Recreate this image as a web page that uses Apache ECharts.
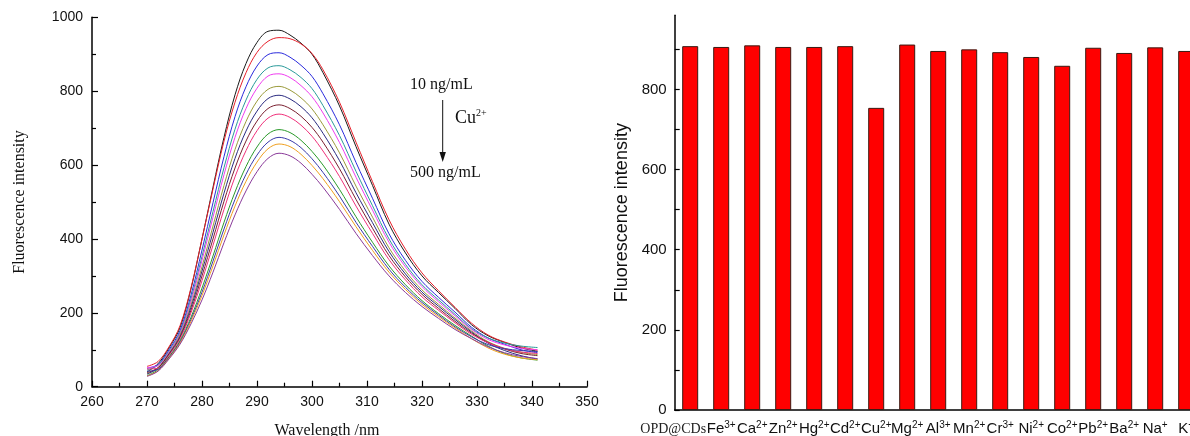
<!DOCTYPE html>
<html>
<head>
<meta charset="utf-8">
<script src="https://cdn.jsdelivr.net/npm/echarts@6/dist/echarts.min.js"></script>
<style>
html,body{margin:0;padding:0;background:#fff;}
#chart{width:1190px;height:436px;}
</style>
</head>
<body>
<div id="chart"></div>
<script>
// ---------- Data: left panel (fluorescence spectra) ----------
const wavelengths = [270,272,274,276,278,280,282,284,286,288,290,292,294,296,298,300,302,305,308,311,314,317,320,323,326,329,332,335,338,341];
const spec01 = [40,62,105,160,265,400,540,675,790,875,932,962,965,952,930,900,850,760,650,545,440,362,300,255,212,168,138,120,105,96];
const spec02 = [55,68,108,165,268,400,535,665,770,850,905,935,945,942,928,902,858,770,662,555,452,372,308,260,215,172,140,121,108,99];
const spec03 = [50,60,100,152,248,370,498,623,731,812,868,899,904,892,870,840,793,709,607,510,414,342,285,242,202,161,132,115,100,92];
const spec04 = [45,58,96,147,238,353,474,593,697,776,832,863,869,858,837,807,761,680,583,490,400,331,276,235,196,157,132,118,110,106];
const spec05 = [52,57,94,144,231,342,459,574,675,753,808,841,847,837,815,785,741,661,567,478,391,324,271,230,192,155,128,113,104,100];
const spec06 = [35,52,91,140,222,325,435,545,642,718,773,805,813,803,782,752,709,633,543,459,376,313,262,223,186,151,122,104,93,87];
const spec07 = [34,50,89,136,215,313,418,524,618,692,746,780,789,779,758,728,686,612,525,444,366,305,256,218,182,148,118,98,84,75];
const spec08 = [38,51,87,133,207,300,400,502,592,665,719,753,763,753,732,702,662,590,507,429,355,297,250,212,177,145,120,102,90,84];
const spec09 = [48,50,85,129,200,287,383,480,568,639,693,727,738,729,708,678,638,569,489,415,344,289,243,207,173,142,119,103,94,90];
const spec10 = [30,46,81,124,188,267,354,445,527,596,649,684,696,688,667,637,600,534,460,391,327,276,233,198,166,137,110,90,78,72];
const spec11 = [42,47,79,121,182,256,340,427,507,575,627,662,675,667,647,617,580,516,445,380,318,269,228,194,162,135,114,103,98,95];
const spec12 = [29,43,77,118,177,247,327,411,489,556,608,644,657,650,629,599,563,501,433,369,310,263,223,190,159,130,105,88,78,73];
const spec13 = [28,42,75,115,170,235,310,390,465,530,582,618,632,625,605,575,540,480,415,355,300,255,217,185,155,130,108,92,82,76];
const spectra = [spec01,spec02,spec03,spec04,spec05,spec06,spec07,spec08,spec09,spec10,spec11,spec12,spec13];
const lineColors = ['#1a1a1a','#e8202a','#2b2bdd','#2a9a9a','#f03cf0','#9a9a3a','#2a2a80','#7a2030','#f0307a','#2a9a2a','#3a3aaa','#f0a020','#8a3a9a'];
const leftYTicks = [0,200,400,600,800,1000];
const leftXTicks = [260,270,280,290,300,310,320,330,340,350];

// ---------- Data: right panel (selectivity bars) ----------
const ionBase = ['OPD@CDs','Fe','Ca','Zn','Hg','Cd','Cu','Mg','Al','Mn','Cr','Ni','Co','Pb','Ba','Na','K'];
const ionCharge = ['','3+','2+','2+','2+','2+','2+','2+','3+','2+','3+','2+','2+','2+','2+','+','+'];
const intensities = [908,906,910,906,906,908,754,912,896,900,893,881,859,904,891,905,896];
const rightYLabels = [0,200,400,600,800];
const rightYTicks = [0,100,200,300,400,500,600,700,800,900];

const categories = ionBase.map((b,i)=> b + (ionCharge[i] ? '^' + ionCharge[i] : ''));

const chart = echarts.init(document.getElementById('chart'), null, {renderer:'canvas'});

const sansFont = '"Liberation Sans", Arial, sans-serif';
const serifFont = '"Liberation Serif", "Times New Roman", serif';

const lineSeries = spectra.map((arr, i) => ({
  type: 'line',
  name: 'c' + (i+1),
  xAxisIndex: 0, yAxisIndex: 0,
  data: wavelengths.map((w, j) => [w, arr[j]]),
  showSymbol: false,
  symbol: 'none',
  smooth: 0.35,
  lineStyle: {width: 1, color: lineColors[i]},
  itemStyle: {color: lineColors[i]},
  silent: true,
  z: 3
}));

const option = {
  animation: false,
  backgroundColor: '#ffffff',
  grid: [
    {left: 92, top: 17.3, width: 495, height: 369.4, containLabel: false, outerBoundsMode: 'none'},
    {left: 674.7, top: 15.3, width: 527, height: 394.7, containLabel: false, outerBoundsMode: 'none'}
  ],
  xAxis: [
    {
      type: 'value', gridIndex: 0, min: 260, max: 350, interval: 10,
      name: 'Wavelength /nm', nameLocation: 'middle', nameGap: 36,
      nameTextStyle: {fontFamily: serifFont, fontSize: 16, color: '#111', padding: [0, 25, 0, 0]},
      axisLine: {show: true, onZero: false, lineStyle: {color: '#000', width: 1.5}},
      axisTick: {show: true, inside: true, length: 6, lineStyle: {color: '#000', width: 1.2}},
      minorTick: {show: true, splitNumber: 2, length: 4, lineStyle: {color: '#000', width: 1.2}},
      axisLabel: {fontFamily: sansFont, fontSize: 14, color: '#111', margin: 8,
        formatter: v => leftXTicks.includes(v) ? String(v) : ''},
      splitLine: {show: false}
    },
    {
      type: 'category', gridIndex: 1, data: categories, boundaryGap: true,
      axisLine: {show: true, lineStyle: {color: '#000', width: 1.5}},
      axisTick: {show: false},
      axisLabel: {
        interval: 0, margin: 10, color: '#111',
        formatter: (v, idx) => {
          if (ionCharge[idx] === '') return '{opd|' + ionBase[idx] + '}';
          return '{b|' + ionBase[idx] + '}{s|' + ionCharge[idx] + '}';
        },
        rich: {
          b: {fontFamily: sansFont, fontSize: 15, color: '#111', lineHeight: 18},
          s: {fontFamily: sansFont, fontSize: 10, color: '#111', verticalAlign: 'top', lineHeight: 10},
          opd: {fontFamily: serifFont, fontSize: 14, color: '#222', lineHeight: 18, padding: [0, 34, 0, 0]}
        }
      },
      splitLine: {show: false}
    }
  ],
  yAxis: [
    {
      type: 'value', gridIndex: 0, min: 0, max: 1000, interval: 200,
      name: 'Fluorescence intensity', nameLocation: 'middle', nameGap: 64,
      nameTextStyle: {fontFamily: serifFont, fontSize: 16, color: '#111'},
      axisLine: {show: true, lineStyle: {color: '#000', width: 1.5}},
      axisTick: {show: true, inside: true, length: 6, lineStyle: {color: '#000', width: 1.2}},
      minorTick: {show: true, splitNumber: 2, length: 4, lineStyle: {color: '#000', width: 1.2}},
      axisLabel: {fontFamily: sansFont, fontSize: 14, color: '#111', margin: 9,
        formatter: v => leftYTicks.includes(v) ? String(v) : ''},
      splitLine: {show: false}
    },
    {
      type: 'value', gridIndex: 1, min: 0, max: 985, interval: 100,
      name: 'Fluorescence intensity', nameLocation: 'middle', nameGap: 44,
      nameTextStyle: {fontFamily: sansFont, fontSize: 18, color: '#111'},
      axisLine: {show: true, lineStyle: {color: '#000', width: 1.5}},
      axisTick: {show: true, inside: true, length: 5, customValues: rightYTicks, lineStyle: {color: '#000', width: 1.2}},
      axisLabel: {fontFamily: sansFont, fontSize: 15, color: '#111', margin: 8, customValues: rightYLabels,
        formatter: v => rightYLabels.includes(v) ? String(v) : ''},
      splitLine: {show: false}
    }
  ],
  graphic: [
    {type: 'text', left: 410, top: 77, style: {text: '10 ng/mL', font: '16px ' + serifFont, fill: '#111'}},
    {type: 'line', shape: {x1: 442.7, y1: 100, x2: 442.7, y2: 154}, style: {stroke: '#111', lineWidth: 1}},
    {type: 'polygon', shape: {points: [[439.5, 152], [445.9, 152], [442.7, 162]]}, style: {fill: '#111'}},
    {type: 'text', left: 455, top: 108, style: {
      text: '{b|Cu}{s|2+}',
      rich: {
        b: {font: '18px ' + serifFont, fill: '#111', lineHeight: 20},
        s: {font: '10px ' + serifFont, fill: '#111', verticalAlign: 'top', lineHeight: 10}
      }
    }},
    {type: 'text', left: 410, top: 165, style: {text: '500 ng/mL', font: '16px ' + serifFont, fill: '#111'}}
  ],
  series: lineSeries.concat([
    {
      type: 'bar', name: 'Intensity', xAxisIndex: 1, yAxisIndex: 1,
      data: intensities, barWidth: 16,
      itemStyle: {color: '#ff0000', borderColor: '#3a1a12', borderWidth: 1},
      silent: true
    }
  ])
};
chart.setOption(option);
</script>
</body>
</html>
